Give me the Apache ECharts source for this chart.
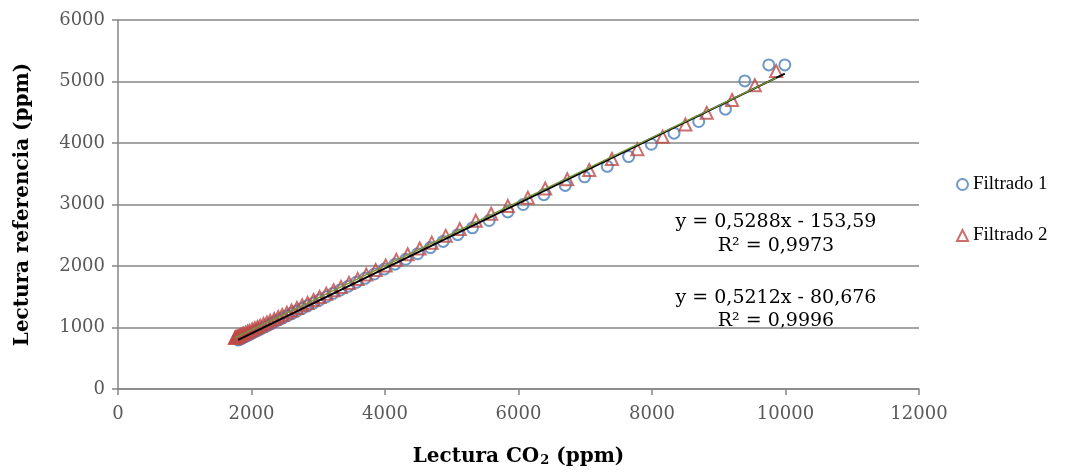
<!DOCTYPE html>
<html>
<head>
<meta charset="utf-8">
<script src="https://cdn.jsdelivr.net/npm/echarts@6/dist/echarts.min.js"></script>
<style>
  html, body { margin: 0; padding: 0; background: #fff; }
  #chart { width: 1084px; height: 475px; }
</style>
</head>
<body>
<div id="chart"></div>
<script>
'use strict';

// Filtrado 1 (circles)
var f1X = [9990, 9750, 9390, 9100, 8700, 8330, 7990, 7650, 7330, 6990, 6700, 6380, 6070, 5840, 5560,
  5310, 5090, 4870, 4680, 4490, 4310, 4150, 3990, 3840, 3700, 3570, 3450, 3330, 3220, 3120,
  3020, 2930, 2840, 2760, 2680, 2610, 2540, 2470, 2410, 2350, 2300, 2250, 2200, 2150, 2110,
  2070, 2030, 2000, 1970, 1940, 1910, 1890, 1870, 1850, 1830, 1815, 1800];
var f1Y = [5270, 5270, 5010, 4550, 4350, 4160, 3980, 3780, 3620, 3450, 3310, 3160, 3000, 2880, 2740,
  2620, 2510, 2400, 2300, 2200, 2110, 2030, 1950, 1870, 1800, 1735, 1672, 1610, 1553, 1500,
  1448, 1400, 1352, 1310, 1268, 1231, 1193, 1156, 1124, 1092, 1065, 1038, 1011, 985, 963,
  942, 921, 905, 889, 873, 857, 846, 835, 824, 813, 805, 797];

// Filtrado 2 (triangles)
var f2X = [9860, 9540, 9200, 8820, 8500, 8160, 7780, 7400, 7060, 6730, 6400, 6140, 5840, 5590, 5360,
  5120, 4910, 4700, 4520, 4340, 4170, 4010, 3860, 3720, 3590, 3460, 3340, 3230, 3120, 3020,
  2930, 2840, 2760, 2680, 2600, 2530, 2460, 2400, 2340, 2280, 2230, 2180, 2130, 2090, 2050,
  2010, 1970, 1940, 1910, 1880, 1860, 1840, 1820, 1800, 1785, 1770, 1760, 1750];
var f2Y = [5170, 4940, 4700, 4490, 4300, 4100, 3900, 3740, 3560, 3410, 3260, 3110, 2975, 2850, 2735,
  2600, 2490, 2380, 2285, 2190, 2100, 2010, 1935, 1860, 1790, 1725, 1660, 1605, 1548, 1495,
  1448, 1400, 1360, 1317, 1276, 1240, 1203, 1172, 1140, 1108, 1083, 1056, 1030, 1009, 988,
  967, 946, 931, 915, 899, 889, 878, 868, 857, 850, 842, 836, 831];

// trendline coefficients (as printed on the chart)
var trend1 = { slope: 0.5288, intercept: -153.59 };
var trend2 = { slope: 0.5212, intercept: -80.676 };
var eqLabels = ['y = 0,5288x - 153,59', 'R² = 0,9973', 'y = 0,5212x - 80,676', 'R² = 0,9996'];

var seriesNames = ['Filtrado 1', 'Filtrado 2'];
var blue = '#4a7ebb';
var red = '#be4b48';
var serif = '"Liberation Serif", "DejaVu Serif", serif';
var wideSerif = '"DejaVu Serif", "Liberation Serif", serif';

function pairs(xs, ys) {
  return xs.map(function(x, i) { return [x, ys[i]]; });
}
function trendData(xs, t) {
  var lo = Math.min.apply(null, xs), hi = Math.max.apply(null, xs);
  return [[lo, t.slope * lo + t.intercept], [hi, t.slope * hi + t.intercept]];
}
function plain(v) { return String(v); }

var myChart = echarts.init(document.getElementById('chart'), null, { renderer: 'canvas' });

var option = {
  animation: false,
  backgroundColor: '#fff',
  textStyle: { fontFamily: serif },
  grid: { left: 118, right: 165, top: 20, bottom: 86 },
  legend: {
    orient: 'vertical',
    left: 951,
    top: 170,
    itemGap: 32,
    itemWidth: 11,
    itemHeight: 11,
    textStyle: { fontFamily: serif, fontSize: 19, color: '#000' },
    data: [
      { name: seriesNames[0], icon: 'circle', itemStyle: { color: 'transparent', borderColor: blue, borderWidth: 2 } },
      { name: seriesNames[1], icon: 'triangle', itemStyle: { color: 'transparent', borderColor: red, borderWidth: 2 } }
    ]
  },
  xAxis: {
    type: 'value',
    min: 0, max: 12000, interval: 2000,
    name: '{a|Lectura CO}{b|2}{a| (ppm)}',
    nameLocation: 'middle',
    nameGap: 58,
    nameTextStyle: {
      rich: {
        a: { fontFamily: wideSerif, fontSize: 20, fontWeight: 'bold', color: '#000', verticalAlign: 'bottom' },
        b: { fontFamily: wideSerif, fontSize: 13, fontWeight: 'bold', color: '#000', verticalAlign: 'bottom', padding: [0, 0, 0, 1] }
      }
    },
    axisLine: { lineStyle: { color: '#868686', width: 1.5 } },
    axisTick: { show: true, length: 6, lineStyle: { color: '#868686', width: 1.5 } },
    axisLabel: { fontFamily: wideSerif, fontSize: 18, color: '#595959', margin: 16, formatter: plain },
    splitLine: { show: false }
  },
  yAxis: {
    type: 'value',
    min: 0, max: 6000, interval: 1000,
    name: 'Lectura referencia (ppm)',
    nameLocation: 'middle',
    nameGap: 85,
    nameTextStyle: { fontFamily: wideSerif, fontSize: 20, fontWeight: 'bold', color: '#000' },
    axisLine: { show: true, lineStyle: { color: '#868686', width: 1.5 } },
    axisTick: { show: true, length: 6, lineStyle: { color: '#868686', width: 1.5 } },
    axisLabel: { fontFamily: wideSerif, fontSize: 18, color: '#595959', margin: 13, formatter: plain },
    splitLine: { show: true, lineStyle: { color: '#868686', width: 1.5 } }
  },
  series: [
    {
      name: seriesNames[0],
      type: 'scatter',
      symbol: 'circle',
      symbolSize: 11,
      itemStyle: { color: 'transparent', borderColor: blue, borderWidth: 2 },
      data: pairs(f1X, f1Y),
      z: 2
    },
    {
      name: seriesNames[1],
      type: 'scatter',
      symbol: 'triangle',
      symbolSize: 12,
      itemStyle: { color: 'transparent', borderColor: red, borderWidth: 2 },
      data: pairs(f2X, f2Y),
      z: 3
    },
    {
      name: 'trend1',
      type: 'line',
      showSymbol: false,
      symbol: 'none',
      lineStyle: { color: '#000', width: 2 },
      data: trendData(f1X, trend1),
      z: 4
    },
    {
      name: 'trend2',
      type: 'line',
      showSymbol: false,
      symbol: 'none',
      lineStyle: { color: '#77933c', width: 1.5 },
      data: trendData(f2X, trend2),
      z: 5
    }
  ],
  graphic: [
    { type: 'text', x: 776, y: 222, style: { text: eqLabels[0], font: '19px ' + wideSerif, fill: '#000', align: 'center', verticalAlign: 'middle' } },
    { type: 'text', x: 776, y: 246, style: { text: eqLabels[1], font: '19px ' + wideSerif, fill: '#000', align: 'center', verticalAlign: 'middle' } },
    { type: 'text', x: 776, y: 298, style: { text: eqLabels[2], font: '19px ' + wideSerif, fill: '#000', align: 'center', verticalAlign: 'middle' } },
    { type: 'text', x: 776, y: 321, style: { text: eqLabels[3], font: '19px ' + wideSerif, fill: '#000', align: 'center', verticalAlign: 'middle' } }
  ]
};

myChart.setOption(option);
</script>
</body>
</html>
